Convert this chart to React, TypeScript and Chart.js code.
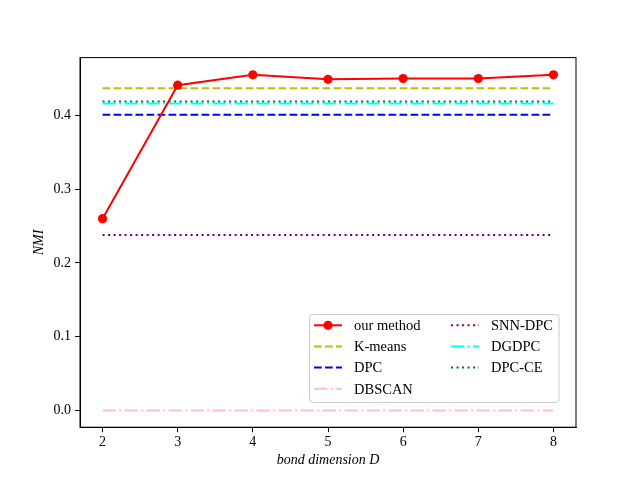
import { useEffect, useRef } from "react";
import Chart from "chart.js/auto";

// bond dimension D on the x axis
const dims = [2, 3, 4, 5, 6, 7, 8];
const yTicks = [0.0, 0.1, 0.2, 0.3, 0.4];

// NMI values
const ourMethod = [0.26, 0.441, 0.455, 0.449, 0.45, 0.45, 0.455];
const kMeans = 0.437;
const dpc = 0.401;
const dbscan = 0.0;
const snnDpc = 0.238;
const dgdpc = 0.416;
const dpcCe = 0.419;

const seriesNames = ["our method", "K-means", "DPC", "DBSCAN", "SNN-DPC", "DGDPC", "DPC-CE"];

const FONT = "'Liberation Serif', 'DejaVu Serif', serif";

// matplotlib dash patterns at linewidth 1.5
const DASHED = [7.7, 3.3];
const DASHDOT = [13.3, 3.3, 2.1, 3.3];
const DOTTED = [2.1, 3.4];

const flat = (v: number) => dims.map((d) => ({ x: d, y: v }));

const frameAndLegend = {
  id: "frameAndLegend",
  afterDatasetsDraw(chart: any) {
    const { ctx, chartArea } = chart;
    ctx.save();
    ctx.strokeStyle = "#000";
    ctx.lineWidth = 1;
    ctx.strokeRect(chartArea.left, chartArea.top, chartArea.right - chartArea.left, chartArea.bottom - chartArea.top);
    ctx.restore();
  },
  afterDraw(chart: any) {
    const { ctx } = chart;
    const box = { x: 309.5, y: 314.5, w: 249.5, h: 88 };
    ctx.save();
    ctx.beginPath();
    ctx.roundRect(box.x, box.y, box.w, box.h, 3);
    ctx.fillStyle = "rgba(255,255,255,0.8)";
    ctx.fill();
    ctx.strokeStyle = "#cccccc";
    ctx.lineWidth = 1;
    ctx.stroke();

    const rows = [325.3, 346.5, 367.6, 388.7];
    const cols = [314, 451];
    chart.data.datasets.forEach((ds: any, i: number) => {
      const col = i < 4 ? 0 : 1;
      const row = i < 4 ? i : i - 4;
      const x0 = cols[col];
      const y = rows[row];
      ctx.beginPath();
      ctx.setLineDash(ds.borderDash || []);
      ctx.strokeStyle = ds.borderColor;
      ctx.lineWidth = ds.borderWidth;
      ctx.moveTo(x0, y);
      ctx.lineTo(x0 + 28, y);
      ctx.stroke();
      ctx.setLineDash([]);
      if (ds.pointRadius > 0) {
        ctx.beginPath();
        ctx.fillStyle = ds.pointBackgroundColor;
        ctx.arc(x0 + 14, y, ds.pointRadius, 0, Math.PI * 2);
        ctx.fill();
      }
      ctx.fillStyle = "#000";
      ctx.font = `14.5px ${FONT}`;
      ctx.textBaseline = "middle";
      ctx.textAlign = "left";
      ctx.fillText(ds.label, x0 + 40, y + 1);
    });
    ctx.restore();
  },
};

const line = (label: string, data: any[], color: string, dash: number[]) => ({
  label,
  data,
  borderColor: color,
  backgroundColor: color,
  borderWidth: 2,
  borderDash: dash,
  pointRadius: 0,
  fill: false,
  tension: 0,
});

const App = () => {
  const canvasRef = useRef<HTMLCanvasElement>(null);
  const chartRef = useRef<Chart | null>(null);

  useEffect(() => {
    document.body.style.margin = "0";
    if (!canvasRef.current) return;
    if (chartRef.current) chartRef.current.destroy();

    chartRef.current = new Chart(canvasRef.current, {
      type: "line",
      data: {
        datasets: [
          {
            label: seriesNames[0],
            data: dims.map((d, i) => ({ x: d, y: ourMethod[i] })),
            borderColor: "#ff0000",
            backgroundColor: "#ff0000",
            pointBackgroundColor: "#ff0000",
            pointBorderWidth: 0,
            borderWidth: 2,
            pointRadius: 4.6,
            borderDash: [],
            fill: false,
            tension: 0,
          },
          line(seriesNames[1], flat(kMeans), "#bfbf00", DASHED),
          line(seriesNames[2], flat(dpc), "#0000ff", DASHED),
          line(seriesNames[3], flat(dbscan), "#ffc0cb", DASHDOT),
          line(seriesNames[4], flat(snnDpc), "#800080", DOTTED),
          line(seriesNames[5], flat(dgdpc), "#00ffff", DASHDOT),
          line(seriesNames[6], flat(dpcCe), "#008000", DOTTED),
        ],
      },
      options: {
        responsive: false,
        animation: false,
        events: [],
        layout: { padding: { top: 57.6, right: 64, left: 0, bottom: 0 } },
        plugins: {
          legend: { display: false },
          tooltip: { enabled: false },
        },
        scales: {
          x: {
            type: "linear",
            min: 1.7,
            max: 8.3,
            afterBuildTicks: (scale: any) => {
              scale.ticks = dims.map((v) => ({ value: v }));
            },
            afterFit: (scale: any) => {
              scale.height = 52.8;
            },
            border: { display: true, color: "#000", width: 1 },
            grid: { drawOnChartArea: false, drawTicks: true, tickLength: 5, tickColor: "#000", tickWidth: 1 },
            ticks: {
              color: "#000",
              font: { family: FONT, size: 14 },
              padding: 2,
              maxRotation: 0,
              callback: (v: any) => String(v),
            },
            title: {
              display: true,
              text: "bond dimension D",
              color: "#000",
              font: { family: FONT, size: 14, style: "italic" },
              padding: { top: 0, bottom: 11.6 },
            },
          },
          y: {
            type: "linear",
            min: -0.0228,
            max: 0.4784,
            afterBuildTicks: (scale: any) => {
              scale.ticks = yTicks.map((v) => ({ value: v }));
            },
            afterFit: (scale: any) => {
              scale.width = 80;
            },
            border: { display: true, color: "#000", width: 1 },
            grid: { drawOnChartArea: false, drawTicks: true, tickLength: 5, tickColor: "#000", tickWidth: 1 },
            ticks: {
              color: "#000",
              font: { family: FONT, size: 14 },
              padding: 4,
              callback: (v: any) => Number(v).toFixed(1),
            },
            title: {
              display: true,
              text: "NMI",
              color: "#000",
              font: { family: FONT, size: 14, style: "italic" },
              padding: { top: 30.6, bottom: 0 },
            },
          },
        },
      },
      plugins: [frameAndLegend],
    });

    return () => {
      if (chartRef.current) {
        chartRef.current.destroy();
        chartRef.current = null;
      }
    };
  }, []);

  return (
    <div style={{ width: 640, height: 480, background: "#fff" }}>
      <canvas ref={canvasRef} width={640} height={480}></canvas>
    </div>
  );
};

export default App;
